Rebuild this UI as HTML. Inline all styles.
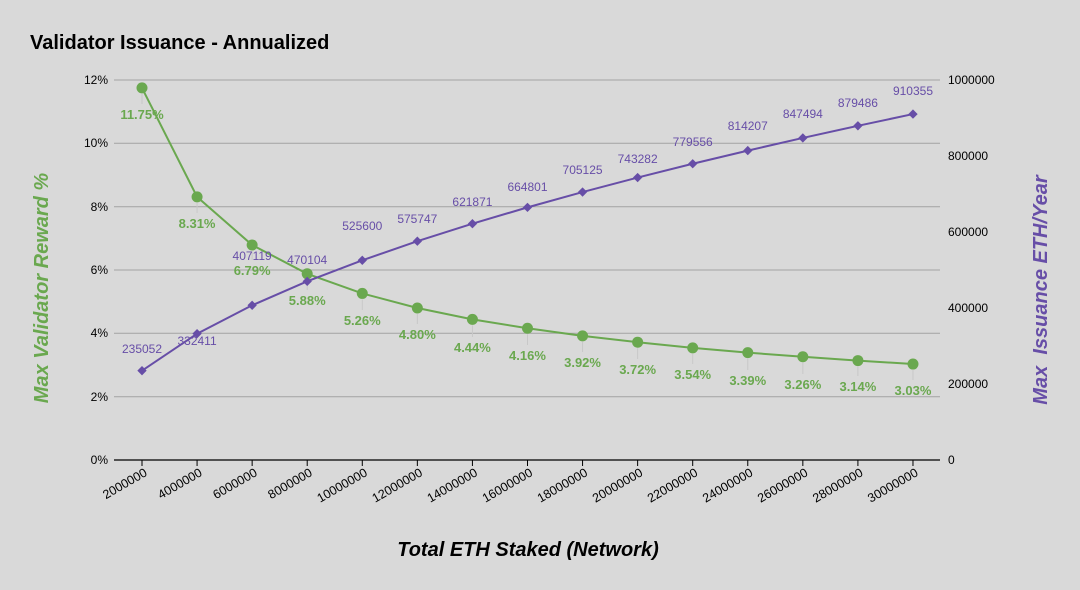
<!DOCTYPE html>
<html><head><meta charset="utf-8"><style>body{margin:0;background:#d9d9d9}svg{display:block}text{font-family:"Liberation Sans",Arial,sans-serif}</style></head>
<body>
<svg width="1080" height="590" viewBox="0 0 1080 590" xmlns="http://www.w3.org/2000/svg">
<rect width="1080" height="590" fill="#d9d9d9"/>
<text x="30" y="49" font-size="20" font-weight="bold" fill="#000">Validator Issuance - Annualized</text>
<g stroke="#a3a3a3" stroke-width="1">
<line x1="114" y1="80" x2="940" y2="80"/><line x1="114" y1="143.3" x2="940" y2="143.3"/>
<line x1="114" y1="206.7" x2="940" y2="206.7"/><line x1="114" y1="270" x2="940" y2="270"/>
<line x1="114" y1="333.3" x2="940" y2="333.3"/><line x1="114" y1="396.7" x2="940" y2="396.7"/>
</g>
<line x1="114" y1="460" x2="940" y2="460" stroke="#000" stroke-width="1.3"/>
<g font-size="12" fill="#000" text-anchor="end">
<text x="108" y="84">12%</text><text x="108" y="147">10%</text><text x="108" y="211">8%</text>
<text x="108" y="274">6%</text><text x="108" y="337">4%</text><text x="108" y="401">2%</text><text x="108" y="464">0%</text>
</g>
<g font-size="12" fill="#000">
<text x="948" y="84">1000000</text><text x="948" y="160">800000</text><text x="948" y="236">600000</text>
<text x="948" y="312">400000</text><text x="948" y="388">200000</text><text x="948" y="464">0</text>
</g>
<g id="ticks" stroke="#000" stroke-width="1"></g>
<g id="xl" font-size="12.5" fill="#000" text-anchor="end"></g>
<text x="528" y="556" font-size="20" font-weight="bold" font-style="italic" text-anchor="middle" fill="#000">Total ETH Staked (Network)</text>
<text transform="translate(48,288) rotate(-90)" font-size="20" font-weight="bold" font-style="italic" text-anchor="middle" fill="#6aa84f">Max Validator Reward %</text>
<text transform="translate(1047,290) rotate(-90)" font-size="20" font-weight="bold" font-style="italic" text-anchor="middle" fill="#674ea7" xml:space="preserve">Max  Issuance ETH/Year</text>
<g id="lead" stroke="#c8c8c8" stroke-width="1"></g>
<polyline id="gl" fill="none" stroke="#6aa84f" stroke-width="2"/>
<polyline id="pl" fill="none" stroke="#674ea7" stroke-width="2"/>
<g id="gp" fill="#6aa84f"></g>
<g id="pp" fill="#674ea7"></g>
<g id="gt" font-size="13" font-weight="bold" fill="#6aa84f" text-anchor="middle"></g>
<g id="pt" font-size="12" fill="#674ea7" text-anchor="middle"></g>
</svg>
<script>
var NS="http://www.w3.org/2000/svg";
function el(p,t,a,txt){var e=document.createElementNS(NS,t);for(var k in a)e.setAttribute(k,a[k]);if(txt)e.textContent=txt;document.getElementById(p).appendChild(e);}
var g=[11.75,8.31,6.79,5.88,5.26,4.80,4.44,4.16,3.92,3.72,3.54,3.39,3.26,3.14,3.03];
var p=[235052,332411,407119,470104,525600,575747,621871,664801,705125,743282,779556,814207,847494,879486,910355];
var gy=[114,223,270,300,320,334,347,355,362,369,374,380,384,386,390];
var py=[349,341,256,260,226,219,202,187,170,159,142,126,114,103,91];
var gpts=[],ppts=[];
for(var i=0;i<15;i++){
 var x=142+i*55.07,yg=460-g[i]/12*380,yp=460-p[i]/1e6*380;
 gpts.push(x+","+yg);ppts.push(x+","+yp);
 el("ticks","line",{x1:x,y1:460,x2:x,y2:466});
 el("xl","text",{x:x+6,y:475,transform:"rotate(-30 "+(x+6)+" 475)"},String((i+1)*2000000));
 el("lead","line",{x1:x,y1:yg+6,x2:x,y2:gy[i]-10});
 el("gp","circle",{cx:x,cy:yg,r:5.5});
 el("pp","rect",{x:x-3.3,y:yp-3.3,width:6.6,height:6.6,transform:"rotate(45 "+x+" "+yp+")"});
 el("gt","text",{x:x,y:gy[i]+5},g[i].toFixed(2)+"%");
 el("pt","text",{x:x,y:py[i]+4},String(p[i]));
}
document.getElementById("gl").setAttribute("points",gpts.join(" "));
document.getElementById("pl").setAttribute("points",ppts.join(" "));
</script>
</body></html>
